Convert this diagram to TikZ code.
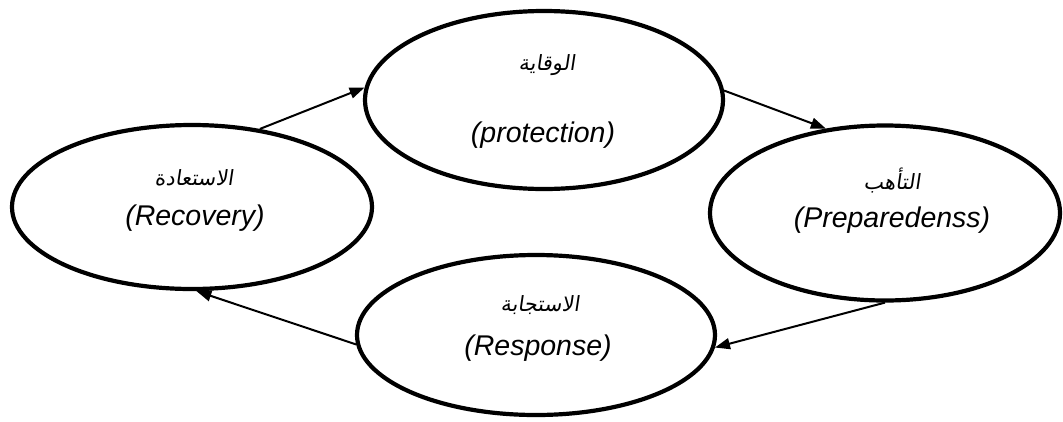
\documentclass[tikz,border=0pt]{standalone}
\usepackage{fontspec}
\setmainfont{Liberation Sans}
\newfontfamily\arabicfont[Script=Arabic,FakeSlant=0.15]{DejaVu Sans}
\TeXXeTstate=1
\usetikzlibrary{arrows.meta,shapes.geometric,positioning}

\begin{document}
\begin{tikzpicture}[x=1pt, y=-1pt, >={Triangle[length=15pt,width=11pt]},
    phase/.style={ellipse, draw, line width=4.2pt, inner sep=0pt},
    flow/.style={->, line width=2pt},
    ar/.style={font=\arabicfont\fontsize{21}{25}\selectfont},
    en/.style={font=\itshape\fontsize{28.5}{33}\selectfont}
    ]
\useasboundingbox (0,0) rectangle (1063,421);
% the four phases
\node[phase, minimum width=358pt, minimum height=178pt] (prot) at (544,100) {};
\node[phase, minimum width=360pt, minimum height=164pt] (rec)  at (192,207) {};
\node[phase, minimum width=350pt, minimum height=175pt] (prep) at (885,213) {};
\node[phase, minimum width=358pt, minimum height=160pt] (resp) at (536,335) {};

\node[ar] (prot-ar) at (547,65)  {\beginR الوقاية\endR};
\node[en] (prot-en) at (543,135) {(protection)};
\node[ar] (rec-ar)  at (194,178) {\beginR الاستعادة\endR};
\node[en] (rec-en)  at (195,218) {(Recovery)};
\node[ar] (prep-ar) at (892,180) {\beginR التأهب\endR};
\node[en] (prep-en) at (892,220) {(Preparedenss)};
\node[ar] (resp-ar) at (540,305) {\beginR الاستجابة\endR};
\node[en] (resp-en) at (538,348) {(Response)};

% the cycle
\draw[flow] (rec.49)   -- (prot.176);
\draw[flow] (prot.3)   -- (prep.125);
\draw[flow] (prep.270) -- (resp.356);
\draw[flow] (resp.183) -- (rec.273);
\end{tikzpicture}
\end{document}
